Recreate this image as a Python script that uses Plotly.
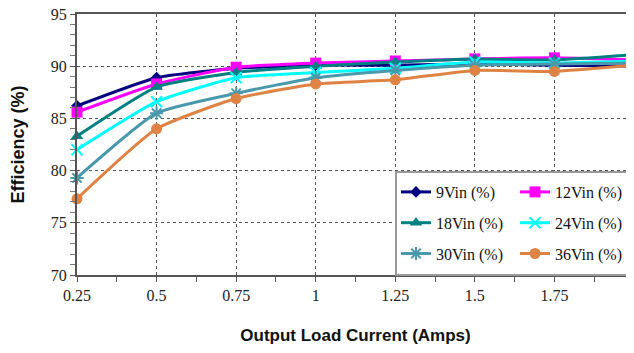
import plotly.graph_objects as go

current = [0.25, 0.5, 0.75, 1.0, 1.25, 1.5, 1.75, 2.0]
eff_9 = [86.2, 88.9, 89.8, 90.1, 90.1, 90.2, 90.1, 90.0]
eff_12 = [85.6, 88.3, 89.9, 90.3, 90.5, 90.7, 90.8, 90.6]
eff_18 = [83.3, 88.0, 89.4, 90.0, 90.4, 90.7, 90.6, 91.1]
eff_24 = [82.0, 86.6, 88.9, 89.4, 89.8, 90.4, 90.3, 90.5]
eff_30 = [79.3, 85.5, 87.4, 88.9, 89.6, 90.1, 90.2, 90.3]
eff_36 = [77.3, 84.0, 86.9, 88.3, 88.7, 89.6, 89.5, 90.1]

series = [
    ("9Vin (%)", eff_9, "#000080", "diamond", 9, 0, "legend"),
    ("12Vin (%)", eff_12, "#FF00FF", "square", 11, 0, "legend2"),
    ("18Vin (%)", eff_18, "#008080", "triangle-up", 11, 0, "legend"),
    ("24Vin (%)", eff_24, "#00FFFF", "x-thin-open", 11, 2, "legend2"),
    ("30Vin (%)", eff_30, "#4A98AC", "asterisk-open", 11, 2, "legend"),
    ("36Vin (%)", eff_36, "#DE8344", "circle", 11, 0, "legend2"),
]

fig = go.Figure()
for i, (name, vals, color, sym, size, lw, lg) in enumerate(series):
    fig.add_trace(go.Scatter(
        x=current, y=vals, name=name, mode="lines+markers",
        line=dict(color=color, width=3, shape="spline", smoothing=0.5),
        marker=dict(symbol=sym, size=size, color=color,
                    line=dict(color=color, width=lw)),
        cliponaxis=False, legend=lg, legendgroup=name,
    ))

# page has an 8px body margin: figure is offset by (8, 8) on screen
W, H = 626, 337
ml, mr, mt, mb = 69, 0, 6, 70
# plot area in screen pixels
SX0, SX1, SY0, SY1 = 77, 634, 14, 275

def px_x(p):
    return (p - SX0) / (SX1 - SX0)

def px_y(p):
    return (SY1 - p) / (SY1 - SY0)

serif = "Liberation Serif, Times New Roman, serif"
sans = "Liberation Sans, Arial, sans-serif"

legend_common = dict(
    bgcolor="rgba(0,0,0,0)", borderwidth=0,
    font=dict(family=serif, size=16, color="#111"),
    traceorder="grouped", tracegroupgap=7, yanchor="top", xanchor="left",
    itemwidth=30,
)

fig.update_layout(
    width=W, height=H,
    margin=dict(l=ml, r=mr, t=mt, b=mb, pad=0),
    paper_bgcolor="white", plot_bgcolor="white",
    showlegend=True,
    legend=dict(x=px_x(396), y=px_y(175), **legend_common),
    legend2=dict(x=px_x(515), y=px_y(175), **legend_common),
    shapes=[dict(type="rect", xref="paper", yref="paper",
                 x0=px_x(396), x1=1.0, y0=0, y1=px_y(172),
                 line=dict(color="#999", width=2), fillcolor="white", layer="above")],
    xaxis=dict(
        range=[0.25, 2.0], tickmode="array", tickvals=current,
        ticktext=["0.25", "0.5", "0.75", "1", "1.25", "1.5", "1.75", "2"],
        showgrid=True, gridcolor="#555", griddash="dot", gridwidth=1,
        showline=True, linecolor="#555", linewidth=2, mirror=True,
        ticks="outside", ticklen=5, tickcolor="#555",
        minor=dict(dtick=0.125, tick0=0.25, ticks="outside", ticklen=5, tickcolor="#555", showgrid=False),
        tickfont=dict(family=serif, size=16, color="#222"),
        ticklabeloverflow="allow",
        title=dict(text="<b>Output Load Current (Amps)</b>", standoff=35,
                   font=dict(family=sans, size=17, color="#111")),
        zeroline=False, automargin=False,
    ),
    yaxis=dict(
        range=[70, 95], dtick=5, tick0=70,
        showgrid=True, gridcolor="#555", griddash="dot", gridwidth=1,
        showline=True, linecolor="#555", linewidth=2, mirror=True,
        ticks="outside", ticklen=5, tickcolor="#555",
        minor=dict(dtick=1, ticks="outside", ticklen=5, tickcolor="#777", showgrid=False),
        tickfont=dict(family=serif, size=16, color="#222"),
        ticklabeloverflow="allow",
        title=dict(text="<b>Efficiency (%)</b>", standoff=31,
                   font=dict(family=sans, size=18, color="#111")),
        zeroline=False, automargin=False,
    ),
)

fig.write_html("out.html")
